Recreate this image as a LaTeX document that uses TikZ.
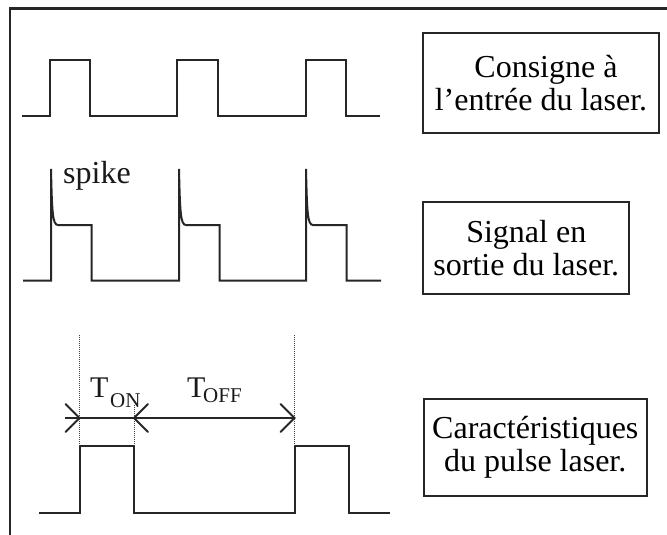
\documentclass[tikz,border=0pt]{standalone}
\usepackage{fontspec}
\setmainfont{Liberation Serif}
\usetikzlibrary{calc}
\begin{document}
\begin{tikzpicture}[x=1pt,y=-1pt,
  wave/.style={line width=2pt, line join=miter, color=black!85},
  frame/.style={line width=2.2pt, color=black!85},
  labelbox/.style={draw=black!85, line width=1.9pt, align=center, inner sep=0pt,
     font=\fontsize{32}{33}\selectfont},
  guide/.style={line width=1pt, densely dotted, color=black!75},
  dim/.style={line width=2pt, color=black!85},
  chev/.style={line width=2pt, color=black!85, line cap=round},
  lbl/.style={anchor=base west, inner sep=0pt, text=black!90}
]
\useasboundingbox (0,0) rectangle (667,535);
% frame (left and top)
\draw[frame] (10,535) -- (10,8.5) -- (667,8.5);

% waveform 1: input command
\draw[wave] (22,115.5) -- (49.5,115.5) -- (49.5,60.5) -- (90,60.5) -- (90,115.5)
  -- (177,115.5) -- (177,60.5) -- (218,60.5) -- (218,115.5)
  -- (305.5,115.5) -- (305.5,60.5) -- (345.5,60.5) -- (345.5,115.5) -- (380,115.5);

% waveform 2: laser output with spikes
\draw[wave] (23,280.5) -- (51,280.5) -- (51,169) .. controls (52,212) and (52.5,225) .. (58,225)
  -- (91.5,225) -- (91.5,280.5)
  -- (179,280.5) -- (179,169) .. controls (180,212) and (180.5,225) .. (186,225)
  -- (219.5,225) -- (219.5,280.5)
  -- (306,280.5) -- (306,169) .. controls (307,212) and (307.5,225) .. (313,225)
  -- (346.5,225) -- (346.5,280.5) -- (381,280.5);
\node[lbl, font=\fontsize{32}{33}\selectfont] (spike) at (63,183) {spike};

% waveform 3: pulse characteristics
\draw[wave] (39,512.5) -- (79.5,512.5) -- (79.5,445.5) -- (134,445.5) -- (134,512.5)
  -- (294.5,512.5) -- (294.5,445.5) -- (348.5,445.5) -- (348.5,512.5) -- (390,512.5);

% guide lines
\coordinate (g1t) at (79.5,335);   \coordinate (g1b) at (79.5,445.5);
\coordinate (g2t) at (134,405);    \coordinate (g2b) at (134,445.5);
\coordinate (g3t) at (294.5,335);  \coordinate (g3b) at (294.5,445.5);
\draw[guide] (g1t) -- (g1b);
\draw[guide] (g2t) -- (g2b);
\draw[guide] (g3t) -- (g3b);

% dimension line
\coordinate (d0) at (65,418);
\coordinate (d1) at (79.5,418);
\coordinate (d2) at (134,418);
\coordinate (d3) at (294.5,418);
\draw[dim] (d0) -- (d3);
\draw[chev] ($(d1)+(-14,-14)$) -- (d1) -- ($(d1)+(-14,14)$);
\draw[chev] ($(d2)+(14,-14)$) -- (d2) -- ($(d2)+(14,14)$);
\draw[chev] ($(d3)+(-14,-14)$) -- (d3) -- ($(d3)+(-14,14)$);

\node[lbl, font=\fontsize{30}{30}\selectfont] (ton) at (90,397) {T};
\node[lbl, font=\fontsize{21}{21}\selectfont] (tonsub) at (110,407) {ON};
\node[lbl, font=\fontsize{30}{30}\selectfont] (toff) at (187,397) {T};
\node[lbl, font=\fontsize{21}{21}\selectfont] (toffsub) at (203,402) {OFF};

% label boxes
\node[labelbox, minimum width=236.6pt, minimum height=99.4pt] (b1) at (541,83)
  {\hspace{10pt}Consigne à\\l’entrée du laser.};
\node[labelbox, minimum width=206pt, minimum height=92.3pt] (b2) at (526.3,247.8)
  {Signal en\\sortie du laser.};
\node[labelbox, minimum width=222.7pt, minimum height=96.7pt] (b3) at (535.3,447.7)
  {Caractéristiques\\du pulse laser.};
\end{tikzpicture}
\end{document}
